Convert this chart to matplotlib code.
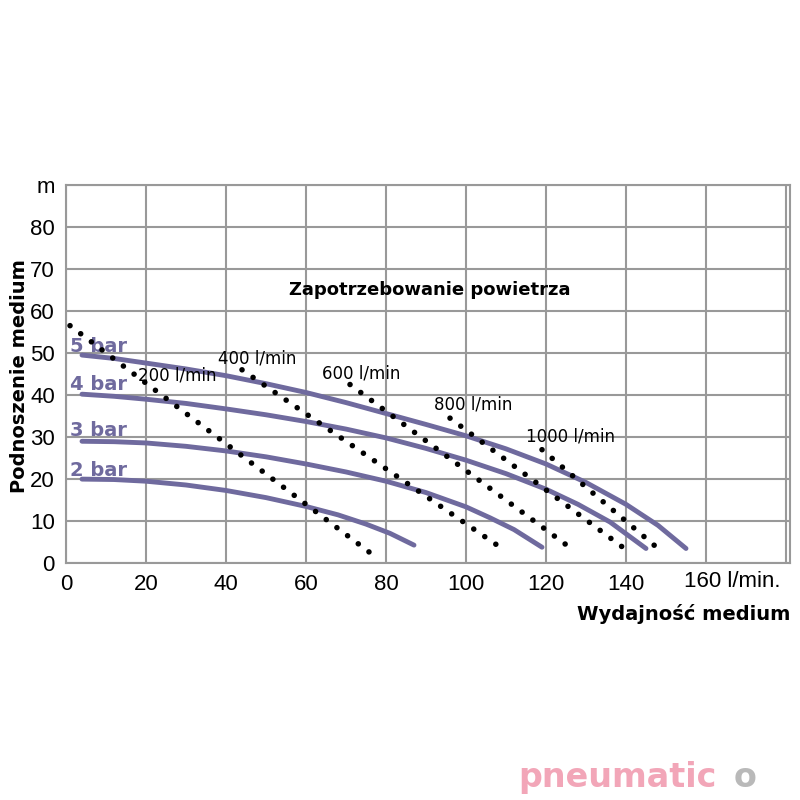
import matplotlib
matplotlib.use("Agg")
import matplotlib.pyplot as plt

# pump curves (flow l/min, head m)
bar5_x = [4, 12, 20, 30, 40, 50, 60, 70, 80, 90, 100, 110, 120, 130, 140, 148, 155]
bar5_y = [49.5, 48.7, 47.6, 46.2, 44.6, 42.7, 40.6, 38.2, 35.6, 33.0, 30.3, 27.2, 23.6, 19.2, 14.0, 9.0, 3.5]
bar4_x = [4, 12, 20, 30, 40, 50, 60, 70, 80, 90, 100, 110, 120, 128, 136, 145]
bar4_y = [40.2, 39.7, 39.0, 38.0, 36.7, 35.3, 33.7, 31.9, 29.8, 27.3, 24.5, 21.3, 17.6, 14.0, 9.8, 3.5]
bar3_x = [4, 12, 20, 30, 40, 50, 60, 70, 80, 90, 100, 106, 112, 119]
bar3_y = [29.0, 28.9, 28.6, 27.8, 26.7, 25.3, 23.6, 21.7, 19.5, 16.8, 13.4, 10.8, 8.0, 3.8]
bar2_x = [4, 12, 20, 30, 40, 50, 60, 68, 75, 81, 87]
bar2_y = [20.0, 19.9, 19.5, 18.6, 17.3, 15.6, 13.5, 11.5, 9.3, 7.1, 4.3]
curve_labels = ["5 bar", "4 bar", "3 bar", "2 bar"]
curve_label_y = [51.5, 42.5, 31.5, 22.0]

# air consumption lines
air_labels = ["200 l/min", "400 l/min", "600 l/min", "800 l/min", "1000 l/min"]
air_x0 = [1, 44, 71, 96, 119]
air_y0 = [56.5, 46.0, 42.5, 34.5, 27.0]
air_x1 = [76, 109, 127, 141, 148]
air_y1 = [2.5, 3.5, 3.0, 2.5, 3.5]
air_label_x = [18, 38, 64, 92, 115]
air_label_y = [42.5, 46.5, 43.0, 35.5, 28.0]

xticks = [0, 20, 40, 60, 80, 100, 120, 140, 160]
xticklabels = ["0", "20", "40", "60", "80", "100", "120", "140", ""]
yticks = [0, 10, 20, 30, 40, 50, 60, 70, 80, 90]
yticklabels = ["0", "10", "20", "30", "40", "50", "60", "70", "80", "m"]

fig = plt.figure(figsize=(8, 8), dpi=100)
ax = fig.add_axes([0.0825, 0.296, 0.905, 0.473])
ax.set_xlim(0, 181)
ax.set_ylim(0, 90)
ax.set_xticks(xticks + [180])
ax.set_yticks(yticks)
ax.set_xticklabels(xticklabels + [""], fontsize=16, family="Liberation Sans")
ax.set_yticklabels(yticklabels, fontsize=16, family="Liberation Sans")
ax.tick_params(length=0, pad=8)
ax.grid(True, color="#999999", linewidth=1.5)
for s in ax.spines.values():
    s.set_color("#999999"); s.set_linewidth(1.5)
ax.text(154.5, -0.021, "160 l/min.", transform=ax.get_xaxis_transform(), fontsize=16,
        family="Liberation Sans", ha="left", va="top")

purple = "#6f6a9e"
for xs, ys, lab, ly in zip([bar5_x, bar4_x, bar3_x, bar2_x], [bar5_y, bar4_y, bar3_y, bar2_y], curve_labels, curve_label_y):
    ax.plot(xs, ys, color=purple, lw=3.5, solid_capstyle="round", solid_joinstyle="round", zorder=3)
    ax.text(1, ly, lab, color=purple, fontsize=14, fontweight="bold", va="center", zorder=4)

for x0, y0, x1, y1, lab, lx, ly in zip(air_x0, air_y0, air_x1, air_y1, air_labels, air_label_x, air_label_y):
    ax.plot([x0, x1], [y0, y1], color="black", lw=4, linestyle=(0, (0.01, 2.4)), dash_capstyle="round", zorder=4)
    ax.text(lx, ly, lab, fontsize=12, va="bottom", zorder=5)

ax.text(91, 65, "Zapotrzebowanie powietrza", fontsize=13, fontweight="bold", ha="center", va="center")
fig.text(0.013, 0.53, "Podnoszenie medium", rotation=90, fontsize=14, fontweight="bold", ha="left", va="center")
fig.text(0.988, 0.232, "Wydajność medium", fontsize=14, fontweight="bold", ha="right", va="center")
fig.text(0.648, 0.028, "pneumatic", fontsize=24, fontweight="bold", color="#f2a6b8", ha="left", va="center")
fig.text(0.917, 0.028, "o", fontsize=24, fontweight="bold", color="#b9b9b9", ha="left", va="center")
fig.savefig("out.png")
